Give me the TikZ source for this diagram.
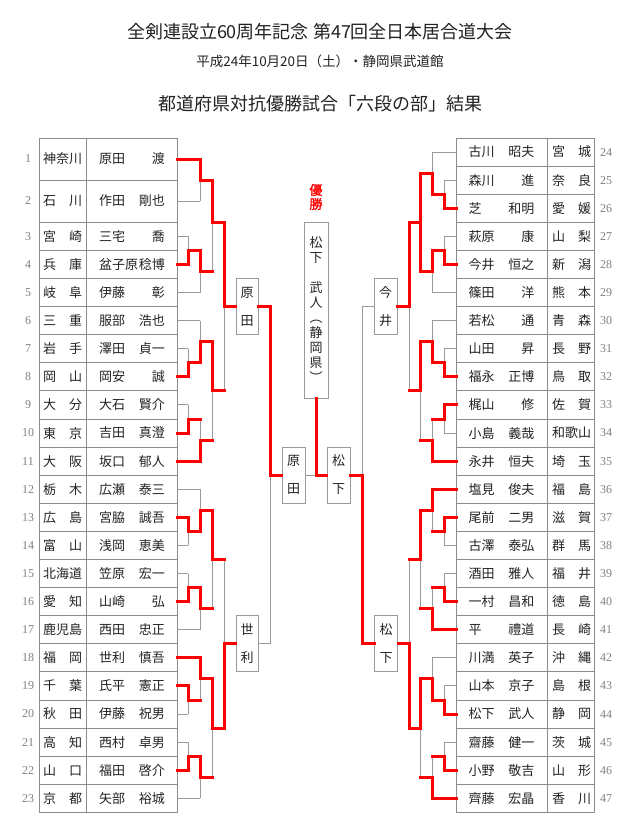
\documentclass[tikz,border=0pt]{standalone}
\usepackage{fontspec}
\setmainfont{Noto Sans CJK JP}
\newfontfamily\numfont{Liberation Serif}
\newfontfamily\yufont[FakeBold=1.5]{Noto Sans CJK JP}
\usetikzlibrary{calc}
\definecolor{txtc}{HTML}{222222}
\definecolor{tblc}{HTML}{8C8C8C}
\definecolor{lnc}{HTML}{9A9A9A}
\definecolor{numc}{HTML}{808080}
\definecolor{winc}{HTML}{FF0000}
\pgfdeclarelayer{bg}
\pgfsetlayers{bg,main}
\tikzset{
  win/.style={draw=winc, line width=3pt, line cap=rect},
  lose/.style={draw=lnc, line width=1pt},
  tbl/.style={draw=tblc, line width=1pt},
  txt/.style={inner sep=0pt, text=txtc, font=\fontsize{13}{13}\selectfont},
  num/.style={inner sep=0pt, text=numc, font=\numfont\fontsize{12}{12}\selectfont},
  rbox/.style={draw=lnc, line width=1pt, fill=white, inner sep=0pt, text=txtc,
    minimum width=23pt, minimum height=56pt, align=center, font=\fontsize{13}{28}\selectfont},
}
\newcommand\seg[3]{\if#1w\draw[win] (#2) -- (#3);\else\begin{pgfonlayer}{bg}\draw[lose] (#2) -- (#3);\end{pgfonlayer}\fi}
\newcommand\E[4]{\seg{#3}{#1}{#1 -| #2}\seg{#4}{#1 -| #2}{#2}}
\newcommand\Lrow[6]{%
  \node[num] (nL#1) at (28,#3) {#2};
  \node[txt] (pL#1) at (62.5,#3) {\makebox[39pt][l]{#4}};
  \node[txt] (mL#1) at (132,#3) {\makebox[66pt][l]{#5\hfill #6}};
  \coordinate (L#1) at (177,#3);}
\newcommand\Rrow[6]{%
  \node[num] (nR#1) at (606,#3) {#2};
  \node[txt] (mR#1) at (501.5,#3) {\makebox[66pt][l]{#4\hfill #5}};
  \node[txt] (pR#1) at (571.5,#3) {\makebox[39pt][l]{#6}};
  \coordinate (R#1) at (456,#3);}
\begin{document}
\begin{tikzpicture}[x=1pt,y=-1pt]
\useasboundingbox (0,0) rectangle (640,833);
% titles
\node[text=txtc, font=\fontsize{18}{18}\selectfont] (t1) at (320,32) {全剣連設立60周年記念 第47回全日本居合道大会};
\node[text=txtc, font=\fontsize{13.5}{13.5}\selectfont] (t2) at (320,61) {平成24年10月20日（土）・静岡県武道館};
\node[text=txtc, font=\fontsize{18}{18}\selectfont] (t3) at (320,104) {都道府県対抗優勝試合「六段の部」結果};
% tables
\draw[tbl] (39,138) rectangle (177,812.4);
\draw[tbl] (86,138) -- (86,812.4);
\draw[tbl] (39,180) -- (177,180);
\foreach \i in {0,...,20} \draw[tbl] (39,222.3+28.1*\i) -- (177,222.3+28.1*\i);
\draw[tbl] (456,138) rectangle (594,812.4);
\draw[tbl] (547,138) -- (547,812.4);
\foreach \i in {1,...,23} \draw[tbl] (456,138+28.1*\i) -- (594,138+28.1*\i);
% left entries
\Lrow{1}{1}{159}{神奈川}{原田}{渡}
\Lrow{2}{2}{201}{石\hfill 川}{作田}{剛也}
\Lrow{3}{3}{236.35}{宮\hfill 崎}{三宅}{喬}
\Lrow{4}{4}{264.45}{兵\hfill 庫}{盆子原}{稔博}
\Lrow{5}{5}{292.55}{岐\hfill 阜}{伊藤}{彰}
\Lrow{6}{6}{320.65}{三\hfill 重}{服部}{浩也}
\Lrow{7}{7}{348.75}{岩\hfill 手}{澤田}{貞一}
\Lrow{8}{8}{376.85}{岡\hfill 山}{岡安}{誠}
\Lrow{9}{9}{404.95}{大\hfill 分}{大石}{賢介}
\Lrow{10}{10}{433.05}{東\hfill 京}{吉田}{真澄}
\Lrow{11}{11}{461.15}{大\hfill 阪}{坂口}{郁人}
\Lrow{12}{12}{489.25}{栃\hfill 木}{広瀬}{泰三}
\Lrow{13}{13}{517.35}{広\hfill 島}{宮脇}{誠吾}
\Lrow{14}{14}{545.45}{富\hfill 山}{浅岡}{恵美}
\Lrow{15}{15}{573.55}{北海道}{笠原}{宏一}
\Lrow{16}{16}{601.65}{愛\hfill 知}{山崎}{弘}
\Lrow{17}{17}{629.75}{鹿児島}{西田}{忠正}
\Lrow{18}{18}{657.85}{福\hfill 岡}{世利}{慎吾}
\Lrow{19}{19}{685.95}{千\hfill 葉}{氏平}{憲正}
\Lrow{20}{20}{714.05}{秋\hfill 田}{伊藤}{祝男}
\Lrow{21}{21}{742.15}{高\hfill 知}{西村}{卓男}
\Lrow{22}{22}{770.25}{山\hfill 口}{福田}{啓介}
\Lrow{23}{23}{798.35}{京\hfill 都}{矢部}{裕城}
% right entries
\Rrow{24}{24}{152.05}{古川}{昭夫}{宮\hfill 城}
\Rrow{25}{25}{180.15}{森川}{進}{奈\hfill 良}
\Rrow{26}{26}{208.25}{芝}{和明}{愛\hfill 媛}
\Rrow{27}{27}{236.35}{萩原}{康}{山\hfill 梨}
\Rrow{28}{28}{264.45}{今井}{恒之}{新\hfill 潟}
\Rrow{29}{29}{292.55}{篠田}{洋}{熊\hfill 本}
\Rrow{30}{30}{320.65}{若松}{通}{青\hfill 森}
\Rrow{31}{31}{348.75}{山田}{昇}{長\hfill 野}
\Rrow{32}{32}{376.85}{福永}{正博}{鳥\hfill 取}
\Rrow{33}{33}{404.95}{梶山}{修}{佐\hfill 賀}
\Rrow{34}{34}{433.05}{小島}{義哉}{和歌山}
\Rrow{35}{35}{461.15}{永井}{恒夫}{埼\hfill 玉}
\Rrow{36}{36}{489.25}{塩見}{俊夫}{福\hfill 島}
\Rrow{37}{37}{517.35}{尾前}{二男}{滋\hfill 賀}
\Rrow{38}{38}{545.45}{古澤}{泰弘}{群\hfill 馬}
\Rrow{39}{39}{573.55}{酒田}{雅人}{福\hfill 井}
\Rrow{40}{40}{601.65}{一村}{昌和}{徳\hfill 島}
\Rrow{41}{41}{629.75}{平}{禮道}{長\hfill 崎}
\Rrow{42}{42}{657.85}{川満}{英子}{沖\hfill 縄}
\Rrow{43}{43}{685.95}{山本}{京子}{島\hfill 根}
\Rrow{44}{44}{714.05}{松下}{武人}{静\hfill 岡}
\Rrow{45}{45}{742.15}{齋藤}{健一}{茨\hfill 城}
\Rrow{46}{46}{770.25}{小野}{敬吉}{山\hfill 形}
\Rrow{47}{47}{798.35}{齊藤}{宏晶}{香\hfill 川}
% left match points
\coordinate (A) at (200,180);
\coordinate (B) at (188,250.4);
\coordinate (C) at (200,271.5);
\coordinate (D) at (212,222.3);
\coordinate (E) at (188,362.8);
\coordinate (F) at (200,341.7);
\coordinate (G) at (188,419.0);
\coordinate (H) at (200,440.1);
\coordinate (I) at (212,390.9);
\coordinate (J) at (224,306.6);
\coordinate (K) at (188,531.4);
\coordinate (L) at (200,510.3);
\coordinate (M) at (188,587.6);
\coordinate (N) at (200,608.7);
\coordinate (O) at (212,559.5);
\coordinate (P) at (188,700.0);
\coordinate (Q) at (200,678.9);
\coordinate (S) at (188,756.2);
\coordinate (T) at (200,777.3);
\coordinate (U) at (212,728.1);
\coordinate (V) at (224,643.8);
% right match points
\coordinate (ra) at (444,194.2);
\coordinate (rb) at (432,173.1);
\coordinate (rc) at (444,250.4);
\coordinate (rd) at (432,271.5);
\coordinate (re) at (420,222.3);
\coordinate (rf) at (444,362.8);
\coordinate (rg) at (432,341.7);
\coordinate (rh) at (444,419.0);
\coordinate (ri) at (432,440.1);
\coordinate (rj) at (420,390.9);
\coordinate (rk) at (409,306.6);
\coordinate (rl) at (444,531.4);
\coordinate (rm) at (432,510.3);
\coordinate (rn) at (444,587.6);
\coordinate (ro) at (432,608.7);
\coordinate (rp) at (420,559.5);
\coordinate (rq) at (444,700.0);
\coordinate (rr) at (432,678.9);
\coordinate (rs) at (444,756.2);
\coordinate (rt) at (432,777.3);
\coordinate (ru) at (420,728.1);
\coordinate (rv) at (409,643.8);
\coordinate (W) at (270,475);
\coordinate (W2) at (362,475);
\coordinate (Fn) at (316,475);
% left edges
\E{L1}{A}{w}{w} \E{L2}{A}{l}{l}
\E{L3}{B}{l}{l} \E{L4}{B}{w}{w}
\E{B}{C}{w}{w} \E{L5}{C}{l}{l}
\E{A}{D}{w}{w} \E{C}{D}{w}{l}
\E{L7}{E}{l}{l} \E{L8}{E}{w}{w}
\E{L6}{F}{l}{l} \E{E}{F}{w}{w}
\E{L9}{G}{l}{l} \E{L10}{G}{w}{w}
\E{G}{H}{w}{l} \E{L11}{H}{w}{w}
\E{F}{I}{w}{w} \E{H}{I}{w}{l}
\E{D}{J}{w}{w} \E{I}{J}{w}{l}
\E{L13}{K}{w}{w} \E{L14}{K}{l}{l}
\E{L12}{L}{l}{l} \E{K}{L}{w}{w}
\E{L15}{M}{l}{l} \E{L16}{M}{w}{w}
\E{M}{N}{w}{w} \E{L17}{N}{l}{l}
\E{L}{O}{w}{w} \E{N}{O}{w}{l}
\E{L19}{P}{w}{w} \E{L20}{P}{l}{l}
\E{L18}{Q}{w}{w} \E{P}{Q}{w}{l}
\E{L21}{S}{l}{l} \E{L22}{S}{w}{w}
\E{S}{T}{w}{w} \E{L23}{T}{l}{l}
\E{Q}{U}{w}{w} \E{T}{U}{w}{l}
\E{O}{V}{w}{l} \E{U}{V}{w}{w}
% right edges
\E{R25}{ra}{l}{l} \E{R26}{ra}{w}{w}
\E{R24}{rb}{l}{l} \E{ra}{rb}{w}{w}
\E{R27}{rc}{l}{l} \E{R28}{rc}{w}{w}
\E{rc}{rd}{w}{w} \E{R29}{rd}{l}{l}
\E{rb}{re}{w}{w} \E{rd}{re}{w}{w}
\E{R31}{rf}{l}{l} \E{R32}{rf}{w}{w}
\E{R30}{rg}{l}{l} \E{rf}{rg}{w}{w}
\E{R33}{rh}{w}{w} \E{R34}{rh}{l}{l}
\E{rh}{ri}{w}{l} \E{R35}{ri}{w}{w}
\E{rg}{rj}{w}{w} \E{ri}{rj}{w}{l}
\E{re}{rk}{w}{w} \E{rj}{rk}{w}{l}
\E{R37}{rl}{w}{w} \E{R38}{rl}{l}{l}
\E{R36}{rm}{w}{w} \E{rl}{rm}{w}{l}
\E{R39}{rn}{l}{l} \E{R40}{rn}{w}{w}
\E{rn}{ro}{w}{l} \E{R41}{ro}{w}{w}
\E{rm}{rp}{w}{w} \E{ro}{rp}{w}{l}
\E{R43}{rq}{l}{l} \E{R44}{rq}{w}{w}
\E{R42}{rr}{l}{l} \E{rq}{rr}{w}{w}
\E{R45}{rs}{l}{l} \E{R46}{rs}{w}{w}
\E{rs}{rt}{w}{l} \E{R47}{rt}{w}{w}
\E{rr}{ru}{w}{w} \E{rt}{ru}{w}{l}
\E{rp}{rv}{w}{l} \E{ru}{rv}{w}{w}
% boxes
\node[rbox, minimum width=22pt] (bL1) at (247,306.6) {原\\田};
\node[rbox, minimum width=22pt] (bL2) at (247,643.8) {世\\利};
\node[rbox] (bR1) at (385.5,306.6) {今\\井};
\node[rbox] (bR2) at (386,643.8) {松\\下};
\node[rbox] (bC1) at (293.5,475) {原\\田};
\node[rbox] (bC2) at (338.5,475) {松\\下};
\node[rbox, minimum width=24pt, minimum height=176pt, font=\fontsize{13}{15}\selectfont] (champ) at (316,310) {松\\下\\[15pt]武\\人\\︵\\静\\岡\\県\\︶};
\node[inner sep=0pt, text=winc, align=center, font=\yufont\fontsize{13}{14}\selectfont] (yusho) at (316,197) {優\\勝};
% later rounds
\seg{w}{J}{bL1.west}
\seg{w}{V}{bL2.west}
\seg{w}{rk}{bR1.east}
\seg{w}{rv}{bR2.east}
\E{bL1.east}{W}{w}{w} \E{bL2.east}{W}{l}{l}
\seg{w}{W}{bC1.west}
\E{bR1.west}{W2}{l}{l} \E{bR2.west}{W2}{w}{w}
\seg{w}{W2}{bC2.east}
\seg{l}{bC1.east}{Fn}
\seg{w}{bC2.west}{Fn}
\seg{w}{Fn}{champ.south}
\end{tikzpicture}
\end{document}
